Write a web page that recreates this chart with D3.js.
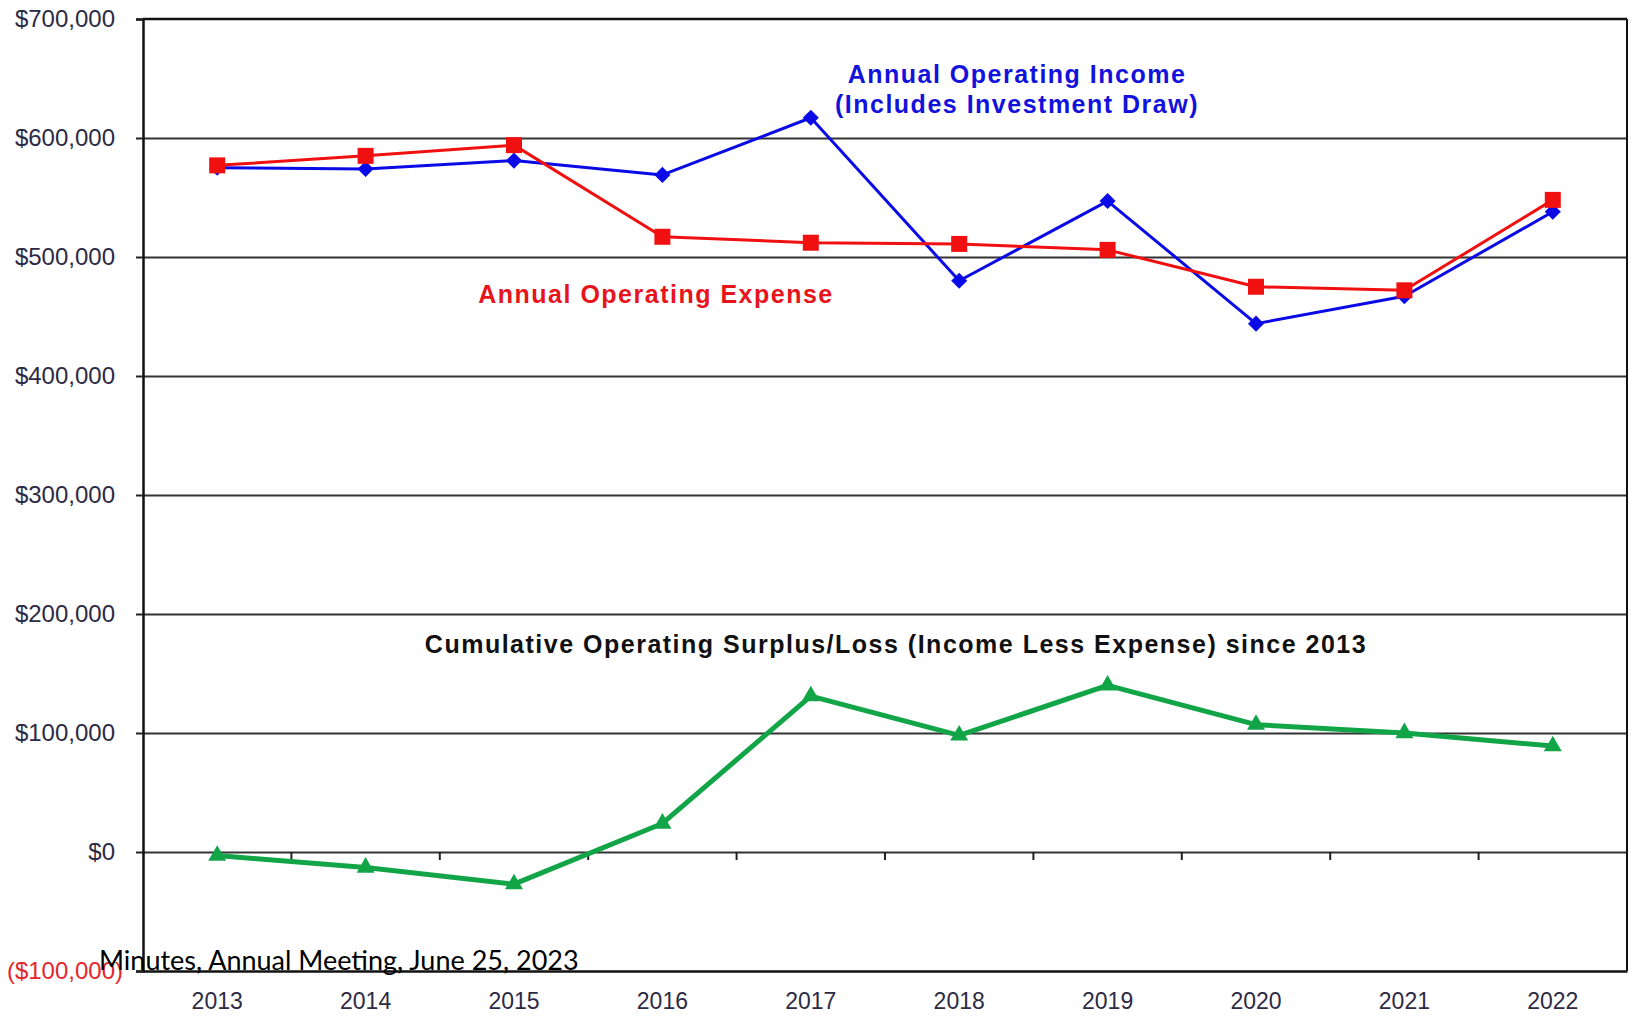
<!DOCTYPE html>
<html>
<head>
<meta charset="utf-8">
<script src="https://cdn.jsdelivr.net/npm/d3@7"></script>
<style>
  body { margin: 0; background: #fff; }
  svg { display: block; }
</style>
</head>
<body>
<svg id="chart" width="1632" height="1022"></svg>
<script>
// chart values
var years = ["2013", "2014", "2015", "2016", "2017", "2018", "2019", "2020", "2021", "2022"];
var income = [575000, 574000, 581000, 569000, 617000, 480000, 547000, 444000, 467000, 538000];
var expense = [577000, 585000, 594000, 517000, 512000, 511000, 506000, 475000, 472000, 548000];
var cumulative = [-3000, -13000, -27000, 24000, 131000, 98000, 140000, 107000, 100000, 89000];
var yTicks = [-100000, 0, 100000, 200000, 300000, 400000, 500000, 600000, 700000];

var svg = d3.select("#chart"),
  margin = { top: 19, right: 5, bottom: 51, left: 143 },
  width = 1632 - margin.left - margin.right,
  height = 1022 - margin.top - margin.bottom;

var g = svg.append("g")
  .attr("transform", "translate(" + margin.left + "," + margin.top + ")");

var x = d3.scaleBand()
  .domain(years)
  .range([0, width])
  .padding(0);

var y = d3.scaleLinear()
  .domain([-100000, 700000])
  .range([height, 0]);

var labelFont = "'Liberation Sans', Arial, sans-serif";
var labelColor = "#2c2a44";

// horizontal gridlines
g.append("g")
  .attr("class", "grid")
  .call(d3.axisLeft(y).tickValues(yTicks.slice(1, -1)).tickSize(-width).tickFormat(""))
  .call(function (s) { s.select(".domain").remove(); })
  .selectAll("line")
  .attr("stroke", "#333")
  .attr("stroke-width", 2);

// top + right border
g.append("line")
  .attr("x1", 0).attr("x2", width)
  .attr("y1", y(700000)).attr("y2", y(700000))
  .attr("stroke", "#111").attr("stroke-width", 2.5);
g.append("line")
  .attr("x1", width).attr("x2", width)
  .attr("y1", 0).attr("y2", height)
  .attr("stroke", "#111").attr("stroke-width", 2);

// small ticks hanging under the $0 line, between the years
g.append("g").selectAll("line")
  .data(years.slice(1))
  .enter().append("line")
  .attr("x1", function (d) { return x(d); })
  .attr("x2", function (d) { return x(d); })
  .attr("y1", y(0))
  .attr("y2", y(0) + 8)
  .attr("stroke", "#222")
  .attr("stroke-width", 2);

// Y axis
var fmt = d3.format("$,");
var yAxis = g.append("g")
  .call(d3.axisLeft(y).tickValues(yTicks).tickSize(7).tickPadding(21)
    .tickFormat(function (d) { return d < 0 ? "(" + fmt(-d) + ")" : fmt(d); }));
yAxis.select(".domain").attr("stroke", "#111").attr("stroke-width", 2.5);
yAxis.selectAll("line").attr("stroke", "#222").attr("stroke-width", 2);
yAxis.selectAll("text")
  .attr("font-family", labelFont)
  .attr("font-size", "24px")
  .attr("fill", function (d) { return d < 0 ? "#e4262c" : labelColor; })
  .attr("x", function (d) { return d < 0 ? -20 : -28; });

// X axis
var xAxis = g.append("g")
  .attr("transform", "translate(0," + height + ")")
  .call(d3.axisBottom(x).tickSize(0).tickPadding(22));
xAxis.select(".domain").attr("stroke", "#111").attr("stroke-width", 2.5);
xAxis.selectAll("text")
  .attr("font-family", labelFont)
  .attr("font-size", "23px")
  .attr("fill", labelColor);

// lines
function drawSeries(values, color, lineWidth) {
  var line = d3.line()
    .x(function (d, i) { return x(years[i]) + x.bandwidth() / 2; })
    .y(function (d) { return y(d); });
  g.append("path")
    .datum(values)
    .attr("fill", "none")
    .attr("stroke", color)
    .attr("stroke-width", lineWidth)
    .attr("stroke-linejoin", "round")
    .attr("d", line);
}

drawSeries(income, "#0a0ae6", 3);
drawSeries(expense, "#f01010", 3);
drawSeries(cumulative, "#12a548", 5);

// markers
g.append("g").selectAll("path")
  .data(income)
  .enter().append("path")
  .attr("d", d3.symbol().type(d3.symbolDiamond2).size(165))
  .attr("transform", function (d, i) { return "translate(" + (x(years[i]) + x.bandwidth() / 2) + "," + y(d) + ")"; })
  .attr("fill", "#0a0ae6");

g.append("g").selectAll("rect")
  .data(expense)
  .enter().append("rect")
  .attr("x", function (d, i) { return x(years[i]) + x.bandwidth() / 2 - 8; })
  .attr("y", function (d) { return y(d) - 8; })
  .attr("width", 16)
  .attr("height", 16)
  .attr("fill", "#f01010");

g.append("g").selectAll("path")
  .data(cumulative)
  .enter().append("path")
  .attr("d", d3.symbol().type(d3.symbolTriangle).size(140))
  .attr("transform", function (d, i) { return "translate(" + (x(years[i]) + x.bandwidth() / 2) + "," + y(d) + ")"; })
  .attr("fill", "#12a548");

// annotations
var boldFont = "'Liberation Sans', Arial, sans-serif";
svg.append("text")
  .attr("x", 1017).attr("y", 83)
  .attr("text-anchor", "middle")
  .attr("font-family", boldFont).attr("font-weight", "bold")
  .attr("font-size", "25px").attr("letter-spacing", "1.5px")
  .attr("fill", "#1212dc")
  .text("Annual Operating Income");
svg.append("text")
  .attr("x", 1017).attr("y", 113)
  .attr("text-anchor", "middle")
  .attr("font-family", boldFont).attr("font-weight", "bold")
  .attr("font-size", "25px").attr("letter-spacing", "1.5px")
  .attr("fill", "#1212dc")
  .text("(Includes Investment Draw)");
svg.append("text")
  .attr("x", 656).attr("y", 303)
  .attr("text-anchor", "middle")
  .attr("font-family", boldFont).attr("font-weight", "bold")
  .attr("font-size", "25px").attr("letter-spacing", "1.5px")
  .attr("fill", "#e8141c")
  .text("Annual Operating Expense");
svg.append("text")
  .attr("x", 896).attr("y", 653)
  .attr("text-anchor", "middle")
  .attr("font-family", boldFont).attr("font-weight", "bold")
  .attr("font-size", "25px").attr("letter-spacing", "1.5px")
  .attr("fill", "#111")
  .text("Cumulative Operating Surplus/Loss (Income Less Expense) since 2013");

// footer text laid over the chart
svg.append("text")
  .attr("x", 99).attr("y", 970)
  .attr("font-family", "Lato, 'Open Sans', sans-serif")
  .attr("font-size", "27px")
  .attr("fill", "#000")
  .text("Minutes, Annual Meeting, June 25, 2023");
</script>
</body>
</html>
